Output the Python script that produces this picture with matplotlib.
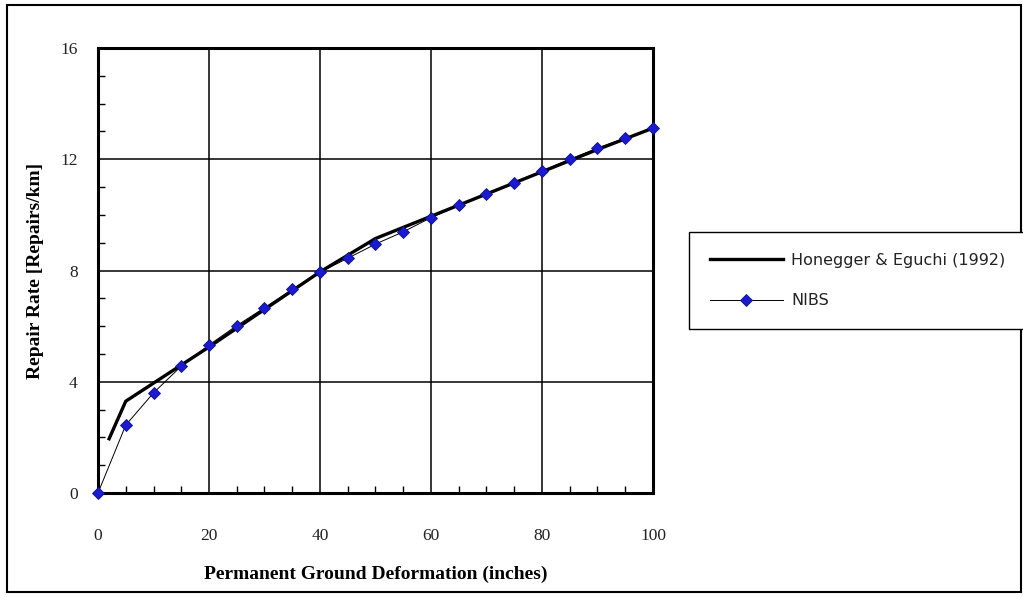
import matplotlib.pyplot as plt
from matplotlib.patches import Rectangle
from matplotlib.ticker import MultipleLocator

# Honegger & Eguchi (1992) curve
he_x = [2, 5, 10, 20, 30, 40, 50, 60, 70, 80, 90, 100]
he_y = [1.95, 3.3, 3.95, 5.25, 6.6, 7.95, 9.15, 9.95, 10.75, 11.55, 12.35, 13.12]

# NIBS points
nibs_x = [0, 5, 10, 15, 20, 25, 30, 35, 40, 45, 50, 55, 60, 65, 70, 75, 80, 85, 90, 95, 100]
nibs_y = [0.0, 2.44, 3.6, 4.56, 5.32, 6.02, 6.66, 7.32, 7.94, 8.44, 8.95, 9.39, 9.9,
          10.34, 10.74, 11.16, 11.58, 12.0, 12.4, 12.76, 13.14]

fig = plt.figure(figsize=(10.23, 5.98), dpi=100)
ax = fig.add_axes([0.0958, 0.1756, 0.5425, 0.7441])

ax.plot(he_x, he_y, color="black", linewidth=2.4, label="Honegger & Eguchi (1992)",
        solid_joinstyle="miter", zorder=3)
ax.plot(nibs_x, nibs_y, color="black", linewidth=0.7, marker="D", markersize=5.8,
        markerfacecolor="#1a1ad0", markeredgecolor="#10108a", markeredgewidth=0.6,
        label="NIBS", zorder=4, clip_on=False)

ax.set_xlim(0, 100)
ax.set_ylim(0, 16)
ax.set_xticks([0, 20, 40, 60, 80, 100])
ax.set_yticks([0, 4, 8, 12, 16])
ax.xaxis.set_minor_locator(MultipleLocator(5))
ax.yaxis.set_minor_locator(MultipleLocator(1))
ax.tick_params(which="major", length=0, labelsize=12.5)
ax.tick_params(which="minor", direction="in", length=5, width=1, color="black")
ax.tick_params(axis="x", which="major", pad=25)
ax.tick_params(axis="y", which="major", pad=14.5)
for lab in ax.get_xticklabels() + ax.get_yticklabels():
    lab.set_fontfamily("Liberation Serif")
    lab.set_color("#222222")

ax.grid(which="major", color="black", linewidth=1.1)
for sp in ax.spines.values():
    sp.set_linewidth(2.2)

ax.set_xlabel("Permanent Ground Deformation (inches)", fontsize=14, fontweight="bold",
              family="Liberation Serif", labelpad=16)
ax.set_ylabel("Repair Rate [Repairs/km]", fontsize=14, fontweight="bold",
              family="Liberation Serif", labelpad=12)

leg = fig.legend(loc="upper left", bbox_to_anchor=(0.6735, 0.612, 0.36, 0.0), mode="expand",
                 fancybox=False, edgecolor="black", framealpha=1,
                 prop={"family": "DejaVu Sans", "size": 11.5},
                 handlelength=4.6, handletextpad=0.5, borderpad=1.3, labelspacing=1.6,
                 borderaxespad=0)
leg.get_frame().set_linewidth(1.0)
leg.get_texts()[0].set_color("#222222")
leg.get_texts()[1].set_color("#222222")

# outer border
fig.patches.append(Rectangle((0.007, 0.01), 0.991, 0.982, transform=fig.transFigure,
                             fill=False, edgecolor="black", linewidth=1.5))

fig.savefig("out.png", dpi=100)
